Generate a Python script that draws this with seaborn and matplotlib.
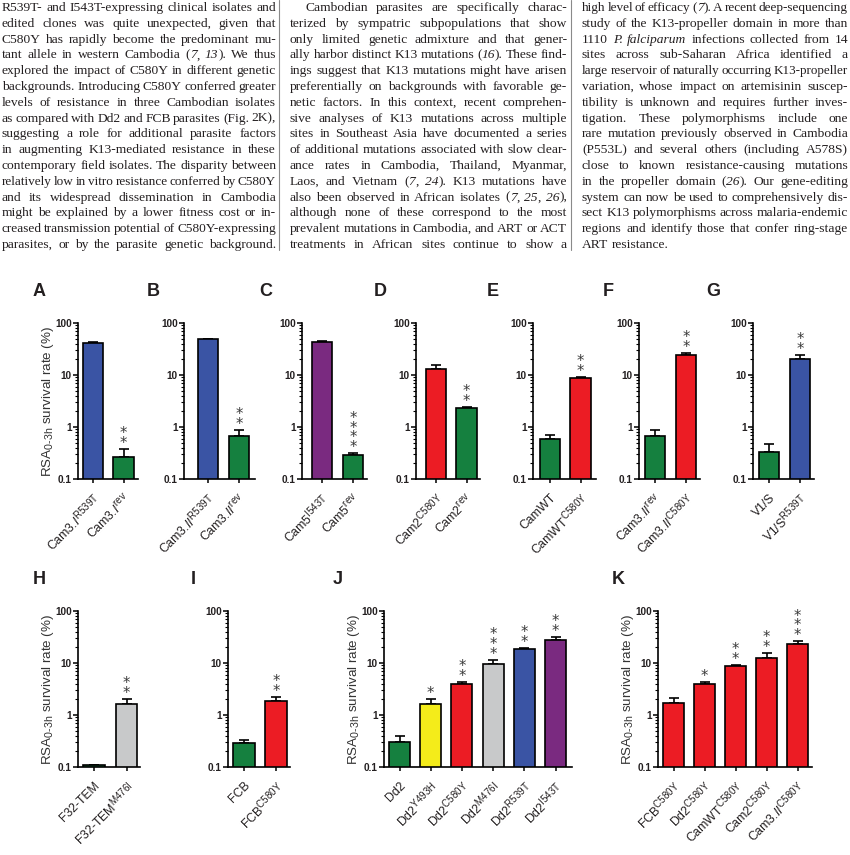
import numpy as np
import pandas as pd
import matplotlib
matplotlib.use('Agg')
import matplotlib.pyplot as plt
import seaborn as sns
from matplotlib import font_manager
from matplotlib.lines import Line2D
from matplotlib.ticker import LogLocator, NullFormatter

# ---------------- page text (three justified columns) ----------------
# words wrapped in _..._ are set in italics
col1_lines = [
    "R539T- and I543T-expressing clinical isolates and",
    "edited clones was quite unexpected, given that",
    "C580Y has rapidly become the predominant mu-",
    "tant allele in western Cambodia (_7_, _13_). We thus",
    "explored the impact of C580Y in different genetic",
    "backgrounds. Introducing C580Y conferred greater",
    "levels of resistance in three Cambodian isolates",
    "as compared with Dd2 and FCB parasites (Fig. 2K),",
    "suggesting a role for additional parasite factors",
    "in augmenting K13-mediated resistance in these",
    "contemporary field isolates. The disparity between",
    "relatively low in vitro resistance conferred by C580Y",
    "and its widespread dissemination in Cambodia",
    "might be explained by a lower fitness cost or in-",
    "creased transmission potential of C580Y-expressing",
    "parasites, or by the parasite genetic background.",
]
col2_lines = [
    "Cambodian parasites are specifically charac-",
    "terized by sympatric subpopulations that show",
    "only limited genetic admixture and that gener-",
    "ally harbor distinct K13 mutations (_16_). These find-",
    "ings suggest that K13 mutations might have arisen",
    "preferentially on backgrounds with favorable ge-",
    "netic factors. In this context, recent comprehen-",
    "sive analyses of K13 mutations across multiple",
    "sites in Southeast Asia have documented a series",
    "of additional mutations associated with slow clear-",
    "ance rates in Cambodia, Thailand, Myanmar,",
    "Laos, and Vietnam (_7_, _24_). K13 mutations have",
    "also been observed in African isolates (_7_, _25_, _26_),",
    "although none of these correspond to the most",
    "prevalent mutations in Cambodia, and ART or ACT",
    "treatments in African sites continue to show a",
]
col3_lines = [
    "high level of efficacy (_7_). A recent deep-sequencing",
    "study of the K13-propeller domain in more than",
    "1110 _P._ _falciparum_ infections collected from 14",
    "sites across sub-Saharan Africa identified a",
    "large reservoir of naturally occurring K13-propeller",
    "variation, whose impact on artemisinin suscep-",
    "tibility is unknown and requires further inves-",
    "tigation. These polymorphisms include one",
    "rare mutation previously observed in Cambodia",
    "(P553L) and several others (including A578S)",
    "close to known resistance-causing mutations",
    "in the propeller domain (_26_). Our gene-editing",
    "system can now be used to comprehensively dis-",
    "sect K13 polymorphisms across malaria-endemic",
    "regions and identify those that confer ring-stage",
    "ART resistance.",
]

# ---------------- panel data (RSA 0-3h survival, %) ----------------
a_labels = [r"Cam3.$\mathit{I}^{\mathrm{R539T}}$", r"Cam3.$\mathit{I}^{\mathrm{rev}}$"]
a_values = [41, 0.26]
a_upper = [43, 0.37]
a_stars = [0, 2]

b_labels = [r"Cam3.$\mathit{II}^{\mathrm{R539T}}$", r"Cam3.$\mathit{II}^{\mathrm{rev}}$"]
b_values = [48.5, 0.68]
b_upper = [49.5, 0.88]
b_stars = [0, 2]

c_labels = [r"Cam5$^{\mathrm{I543T}}$", r"Cam5$^{\mathrm{rev}}$"]
c_values = [43.5, 0.29]
c_upper = [46, 0.31]
c_stars = [0, 4]

d_labels = [r"Cam2$^{\mathrm{C580Y}}$", r"Cam2$^{\mathrm{rev}}$"]
d_values = [12.9, 2.35]
d_upper = [15.5, 2.45]
d_stars = [0, 2]

e_labels = ["CamWT", r"CamWT$^{\mathrm{C580Y}}$"]
e_values = [0.58, 8.9]
e_upper = [0.69, 9.2]
e_stars = [0, 2]

f_labels = [r"Cam3.$\mathit{II}^{\mathrm{rev}}$", r"Cam3.$\mathit{II}^{\mathrm{C580Y}}$"]
f_values = [0.67, 24.3]
f_upper = [0.89, 26.8]
f_stars = [0, 2]

g_labels = ["V1/S", r"V1/S$^{\mathrm{R539T}}$"]
g_values = [0.335, 20.3]
g_upper = [0.47, 24.3]
g_stars = [0, 2]

h_labels = ["F32-TEM", r"F32-TEM$^{\mathrm{M476I}}$"]
h_values = [0.107, 1.65]
h_upper = [0.107, 2.05]
h_stars = [0, 2]

i_labels = ["FCB", r"FCB$^{\mathrm{C580Y}}$"]
i_values = [0.29, 1.86]
i_upper = [0.335, 2.2]
i_stars = [0, 2]

j_labels = ["Dd2", r"Dd2$^{\mathrm{Y493H}}$", r"Dd2$^{\mathrm{C580Y}}$",
            r"Dd2$^{\mathrm{M476I}}$", r"Dd2$^{\mathrm{R539T}}$", r"Dd2$^{\mathrm{I543T}}$"]
j_values = [0.30, 1.66, 4.0, 9.4, 18.9, 28.2]
j_upper = [0.40, 2.05, 4.4, 11.6, 19.5, 32]
j_stars = [0, 1, 2, 3, 2, 2]

k_labels = [r"FCB$^{\mathrm{C580Y}}$", r"Dd2$^{\mathrm{C580Y}}$", r"CamWT$^{\mathrm{C580Y}}$",
            r"Cam2$^{\mathrm{C580Y}}$", r"Cam3.$\mathit{II}^{\mathrm{C580Y}}$"]
k_values = [1.7, 4.0, 8.8, 12.7, 23.6]
k_upper = [2.1, 4.4, 9.3, 15.3, 26]
k_stars = [0, 1, 2, 2, 3]

# bar colours
BLUE, GREEN, PURPLE = '#3a54a4', '#15803f', '#7a2a80'
RED, YELLOW, GREY = '#ec1c24', '#f4ec1a', '#c8c9ca'

# ---------------- style ----------------
sns.set_style('ticks')
plt.rcParams['font.family'] = ['Liberation Sans', 'DejaVu Sans']
plt.rcParams['mathtext.fontset'] = 'custom'
plt.rcParams['mathtext.rm'] = 'Liberation Sans'
plt.rcParams['mathtext.it'] = 'Liberation Sans:italic'
plt.rcParams['mathtext.bf'] = 'Liberation Sans:bold'
# superscripts in the figure are a bit larger than mathtext's default
try:
    import matplotlib._mathtext as _mt
    _mt.SHRINK_FACTOR = 0.8
except Exception:
    pass

W, H = 850, 855
fig = plt.figure(figsize=(W / 100, H / 100), dpi=100)
renderer = fig.canvas.get_renderer()


def fx(x):
    return x / W


def fy(y):
    return 1 - y / H


# ---------------- justified text columns ----------------
BODY = dict(family='Liberation Serif', color='#231f20')
BODY_SIZE = 9.7
LEAD = 15.8


def measure(s, size, italic=False):
    t = fig.text(0, 0, s, fontsize=size, style='italic' if italic else 'normal', **BODY)
    w = t.get_window_extent(renderer).width
    t.remove()
    return w


def split_words(line):
    words = []
    for w in line.split(' '):
        words.append([(p, k % 2 == 1) for k, p in enumerate(w.split('_')) if p])
    return words


def draw_column(lines, x0, x1, base0, indent=0, ragged_last=False):
    space = measure('n n', BODY_SIZE) - measure('nn', BODY_SIZE)
    for i, line in enumerate(lines):
        y = base0 + i * LEAD
        left = x0 + (indent if i == 0 else 0)
        words = split_words(line)
        # shrink a line only when it cannot fit with tight word spaces
        nat = sum(measure(p, BODY_SIZE, it) for segs in words for p, it in segs)
        need = nat + 0.55 * space * (len(words) - 1)
        size = BODY_SIZE * min(1.0, (x1 - left) / need)
        placed = []
        for segs in words:
            row = []
            for p, it in segs:
                t = fig.text(0, fy(y), p, fontsize=size, va='baseline', ha='left',
                             style='italic' if it else 'normal', **BODY)
                row.append((t, t.get_window_extent(renderer).width))
            placed.append(row)
        total = sum(wd for row in placed for _, wd in row)
        if (ragged_last and i == len(lines) - 1) or len(placed) == 1:
            gap = space
        else:
            gap = (x1 - left - total) / (len(placed) - 1)
        x = left
        for row in placed:
            for t, wd in row:
                t.set_x(fx(x))
                x += wd
            x += gap


draw_column(col1_lines, 2, 276, 11)
draw_column(col2_lines, 290, 567, 11, indent=15)
draw_column(col3_lines, 582, 848, 11, ragged_last=True)

for xs in (279, 571):
    fig.add_artist(Line2D([fx(xs), fx(xs)], [fy(0), fy(250)], color='#8a8a8a', lw=0.8))

# ---------------- panel letters ----------------
names = {f.name for f in font_manager.fontManager.ttflist}
letter_family = 'Liberation Sans Narrow' if 'Liberation Sans Narrow' in names else 'Liberation Sans'
letter_pos = {'A': (39, 291), 'B': (153, 291), 'C': (266, 291), 'D': (380, 291),
              'E': (493, 291), 'F': (608, 291), 'G': (713, 291),
              'H': (39, 580), 'I': (193, 580), 'J': (338, 580), 'K': (618, 580)}
for letter, (lx, ly) in letter_pos.items():
    fig.text(fx(lx), fy(ly), letter, family=letter_family, fontsize=13,
             fontweight='bold', color='#231f20', ha='center', va='center')

# ---------------- bar panels ----------------
YLABEL = r"RSA$_{\text{0-3h}}$ survival rate (%)"


def draw_panel(left, c0, right, sp, top, bottom, labels, values, upper, stars, colors, ylabel):
    ax = fig.add_axes([fx(left), fy(bottom), (right - left) / W, (bottom - top) / H])
    n = len(labels)
    df = pd.DataFrame({'strain': labels, 'rsa': values})
    sns.barplot(data=df, x='strain', y='rsa', hue='strain', palette=colors, legend=False,
                width=0.67, edgecolor='black', linewidth=1.2, saturation=1,
                errorbar=None, ax=ax, zorder=2)
    pos = np.arange(n)
    err_up = np.array(upper) - np.array(values)
    ax.errorbar(pos, values, yerr=[np.zeros(n), err_up], fmt='none', ecolor='black',
                elinewidth=1.2, capsize=3.3, capthick=1.2, zorder=1)
    ax.set_yscale('log')
    ax.set_ylim(0.1, 100)
    ax.set_xlim(-(c0 - left) / sp, (right - c0) / sp)
    ax.set_yticks([0.1, 1, 10, 100])
    ax.set_yticklabels(['0.1', '1', '10', '100'], fontweight='bold', fontsize=7.2, color='#231f20')
    ax.yaxis.set_minor_locator(LogLocator(base=10, subs=np.arange(2, 10)))
    ax.yaxis.set_minor_formatter(NullFormatter())
    ax.set_xticks(pos)
    ax.set_xticklabels(labels, rotation=45, ha='right', va='top', rotation_mode='anchor',
                       fontsize=8.8, color='#231f20')
    ax.tick_params(axis='y', which='major', length=3.5, width=1.1, pad=1, color='black')
    ax.tick_params(axis='y', which='minor', length=2, width=0.8, color='black')
    ax.tick_params(axis='x', which='major', length=3, width=1.1, pad=6, color='black')
    for s in ('left', 'bottom'):
        ax.spines[s].set_linewidth(1.2)
        ax.spines[s].set_color('black')
    sns.despine(ax=ax)
    ax.set_xlabel('')
    ax.set_ylabel('')
    if ylabel:
        ax.set_ylabel(YLABEL, fontsize=9.6, color='#333333')
        ax.yaxis.set_label_coords(-22 / (right - left), 0.5)
    for p, top_val, k in zip(pos, upper, stars):
        if k:
            ax.annotate('\n'.join(['*'] * k), xy=(p, top_val), xytext=(0, -2),
                        textcoords='offset pixels', ha='center', va='bottom',
                        fontsize=10.5, linespacing=0.58, family='DejaVu Sans',
                        color='#3a3a3a')
    return ax


R1T, R1B = 323, 479
R2T, R2B = 611, 767
draw_panel(78, 93, 138, 30.5, R1T, R1B, a_labels, a_values, a_upper, a_stars, [BLUE, GREEN], True)
draw_panel(184, 208, 255, 31, R1T, R1B, b_labels, b_values, b_upper, b_stars, [BLUE, GREEN], False)
draw_panel(302, 322, 367, 31, R1T, R1B, c_labels, c_values, c_upper, c_stars, [PURPLE, GREEN], False)
draw_panel(416, 436, 480, 30.5, R1T, R1B, d_labels, d_values, d_upper, d_stars, [RED, GREEN], False)
draw_panel(533, 550, 596, 30.5, R1T, R1B, e_labels, e_values, e_upper, e_stars, [GREEN, RED], False)
draw_panel(639, 655, 700, 31, R1T, R1B, f_labels, f_values, f_upper, f_stars, [GREEN, RED], False)
draw_panel(753, 769, 814, 31, R1T, R1B, g_labels, g_values, g_upper, g_stars, [GREEN, BLUE], False)
draw_panel(78, 94, 140, 32.5, R2T, R2B, h_labels, h_values, h_upper, h_stars, [GREEN, GREY], True)
draw_panel(228, 244, 290, 32, R2T, R2B, i_labels, i_values, i_upper, i_stars, [GREEN, RED], False)
draw_panel(384, 399.5, 572, 31.2, R2T, R2B, j_labels, j_values, j_upper, j_stars,
           [GREEN, YELLOW, RED, GREY, BLUE, PURPLE], True)
draw_panel(658, 673.5, 812, 31, R2T, R2B, k_labels, k_values, k_upper, k_stars, [RED] * 5, True)

fig.savefig('out.png', dpi=100, facecolor='white')
